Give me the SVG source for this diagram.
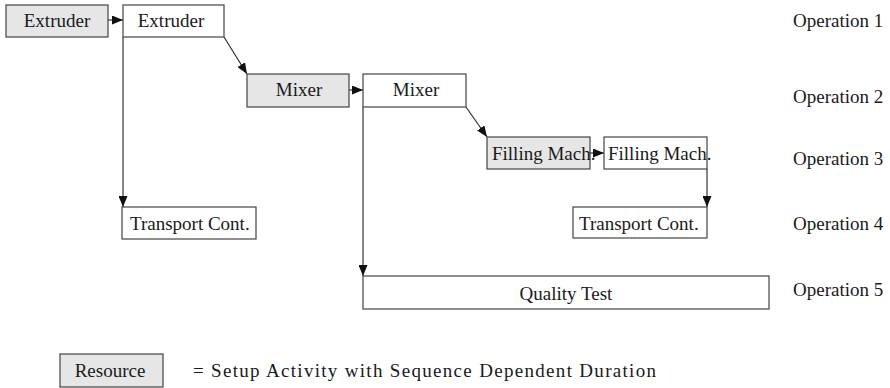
<svg xmlns="http://www.w3.org/2000/svg" width="890" height="388" viewBox="0 0 890 388">
<style>
  .box { fill: #ffffff; stroke: #444444; stroke-width: 1.2; }
  .setup { fill: #e6e6e6; stroke: #444444; stroke-width: 1.2; }
  text { font-family: 'Liberation Serif', 'Times New Roman', Times, serif; font-size: 19px; fill: #1a1a1a; }
  .mid { text-anchor: middle; }
  .conn { fill: none; stroke: #222222; stroke-width: 1.1; marker-end: url(#arr); }
</style>
<defs>
  <marker id="arr" viewBox="0 0 11 9" refX="11" refY="4.5" markerWidth="11" markerHeight="9" markerUnits="userSpaceOnUse" orient="auto">
    <path d="M0,0 L11,4.5 L0,9 z" fill="#111111"/>
  </marker>
</defs>
<rect width="890" height="388" fill="#ffffff"/>

<g id="connectors">
  <line class="conn" x1="108" y1="20" x2="123" y2="20"/>
  <line class="conn" x1="224" y1="37" x2="247" y2="74"/>
  <line class="conn" x1="123" y1="37" x2="123" y2="207"/>
  <line class="conn" x1="349" y1="90" x2="363" y2="90"/>
  <line class="conn" x1="466" y1="107" x2="487" y2="137"/>
  <line class="conn" x1="363" y1="107" x2="363" y2="276"/>
  <line class="conn" x1="590" y1="153" x2="604" y2="153"/>
  <line class="conn" x1="707" y1="169" x2="707" y2="207"/>
</g>

<g id="extruder-setup">
  <rect class="setup" x="6" y="5" width="102" height="32"/>
  <text class="mid" x="57" y="27">Extruder</text>
</g>
<g id="extruder">
  <rect class="box" x="123" y="5" width="101" height="32"/>
  <text class="mid" x="171" y="27">Extruder</text>
</g>
<g id="mixer-setup">
  <rect class="setup" x="247" y="74" width="102" height="33"/>
  <text class="mid" x="299" y="96">Mixer</text>
</g>
<g id="mixer">
  <rect class="box" x="363" y="74" width="103" height="33"/>
  <text class="mid" x="416" y="96">Mixer</text>
</g>
<g id="filling-setup">
  <rect class="setup" x="487" y="137" width="103" height="32"/>
  <text x="492" y="160">Filling Mach.</text>
</g>
<g id="filling">
  <rect class="box" x="604" y="137" width="103" height="32"/>
  <text x="608" y="160">Filling Mach.</text>
</g>
<g id="transport-1">
  <rect class="box" x="122" y="207" width="134" height="32"/>
  <text x="130" y="230">Transport Cont.</text>
</g>
<g id="transport-2">
  <rect class="box" x="573" y="207" width="134" height="31"/>
  <text x="579" y="230">Transport Cont.</text>
</g>
<g id="quality-test">
  <rect class="box" x="363" y="276" width="406" height="33"/>
  <text class="mid" x="566" y="300">Quality Test</text>
</g>

<g id="operations">
  <text x="793" y="27">Operation 1</text>
  <text x="793" y="103">Operation 2</text>
  <text x="793" y="165">Operation 3</text>
  <text x="793" y="230">Operation 4</text>
  <text x="793" y="296">Operation 5</text>
</g>

<g id="legend">
  <rect class="setup" x="60" y="354" width="103" height="33"/>
  <text class="mid" x="110" y="377">Resource</text>
  <text x="193" y="377" font-size="20" textLength="463" lengthAdjust="spacing">= Setup Activity with Sequence Dependent Duration</text>
</g>
</svg>
